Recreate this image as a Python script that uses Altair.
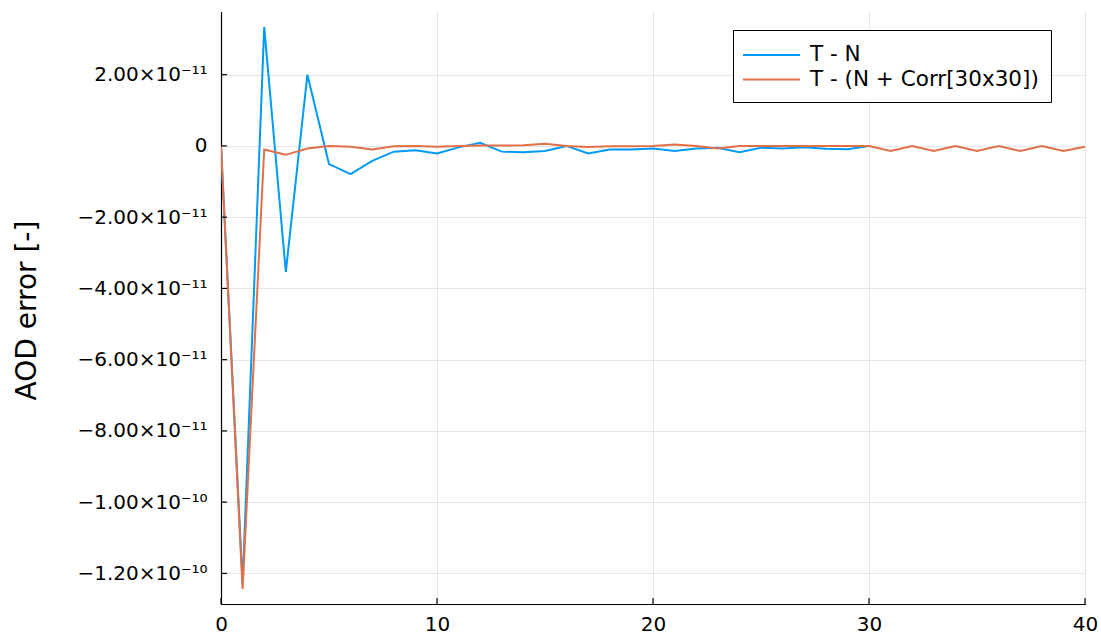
import altair as alt
import pandas as pd

# values in units of 1e-11
x_tn = list(range(0, 31))
y_tn = [0, -12.3, 3.34, -3.54, 2.0, -0.51, -0.79, -0.42, -0.16, -0.12, -0.21,
        -0.04, 0.09, -0.16, -0.18, -0.14, 0.0, -0.21, -0.10, -0.10, -0.07,
        -0.14, -0.07, -0.05, -0.18, -0.05, -0.07, -0.04, -0.08, -0.09, 0.0]
x_corr = list(range(0, 41))
y_corr = [0, -12.44, -0.10, -0.25, -0.07, 0.0, -0.02, -0.10, -0.01, 0.0, -0.02,
          0.0, 0.01, 0.01, 0.02, 0.06, 0.0, -0.03, -0.01, -0.01, 0.0,
          0.04, 0.0, -0.07, 0.0, 0.0, 0.0, 0.0, 0.0, 0.0, 0.0,
          -0.14, 0.0, -0.14, 0.0, -0.14, 0.0, -0.14, 0.0, -0.14, -0.02]
series_names = ["T - N", "T - (N + Corr[30x30])"]
series_colors = ["#009AFA", "#E36F47"]
y_ticks = [-12, -10, -8, -6, -4, -2, 0, 2]
y_tick_labels = ["\u22121.20\u00d710\u207b\u00b9\u2070", "\u22121.00\u00d710\u207b\u00b9\u2070",
                 "\u22128.00\u00d710\u207b\u00b9\u00b9", "\u22126.00\u00d710\u207b\u00b9\u00b9",
                 "\u22124.00\u00d710\u207b\u00b9\u00b9", "\u22122.00\u00d710\u207b\u00b9\u00b9",
                 "0", "2.00\u00d710\u207b\u00b9\u00b9"]
x_ticks = [0, 10, 20, 30, 40]

rows = []
for xv, yv in zip(x_tn, y_tn):
    rows.append({"x": xv, "y": yv * 1e-11, "s": series_names[0], "o": 0})
for xv, yv in zip(x_corr, y_corr):
    rows.append({"x": xv, "y": yv * 1e-11, "s": series_names[1], "o": 1})
df = pd.DataFrame(rows)

label_arr = "[" + ",".join("'" + l + "'" for l in y_tick_labels) + "]"
label_expr = label_arr + "[round(datum.value*5e10)+6]"

FONT = "DejaVu Sans"
W, H = 864, 592
YDOM = [-1.286e-10, 3.76e-11]

chart = alt.Chart(df).mark_line(strokeWidth=2, clip=True).encode(
    x=alt.X("x:Q", scale=alt.Scale(domain=[0, 40], nice=False, zero=False),
            axis=alt.Axis(values=x_ticks, title=None, grid=True, gridColor="#e5e5e5",
                          domainColor="black", domainWidth=1.2, tickSize=0, ticks=False,
                          labelPadding=10, labelFontSize=20, labelColor="black",
                          labelFont=FONT, labelFlush=False)),
    y=alt.Y("y:Q", scale=alt.Scale(domain=YDOM, nice=False, zero=False),
            axis=alt.Axis(values=[v * 1e-11 for v in y_ticks], labelExpr=label_expr,
                          title="AOD error [-]", titleFontSize=28, titleFont=FONT,
                          titleFontWeight="normal", titleColor="black",
                          titleX=-194, titleY=298, titleAlign="center", titleBaseline="middle",
                          titleAngle=270,
                          grid=True, gridColor="#e5e5e5", domainColor="black", domainWidth=1.2,
                          tickSize=0, ticks=False, labelPadding=14, labelFontSize=20,
                          labelColor="black", labelFont=FONT)),
    color=alt.Color("s:N", scale=alt.Scale(domain=series_names, range=series_colors),
                    title=None,
                    legend=alt.Legend(orient="none", legendX=512, legendY=18,
                                      strokeColor="black", fillColor="white", padding=12,
                                      cornerRadius=0, symbolType="M-1.25,0H3.5", symbolSize=576,
                                      symbolStrokeWidth=2, labelFontSize=21.5, labelFont=FONT,
                                      labelColor="black", labelOffset=39, rowPadding=0.5,
                                      labelLimit=400)),
    order=alt.Order("o:Q"),
    detail="s:N",
)

yticks_layer = alt.Chart(pd.DataFrame({"t": [v * 1e-11 for v in y_ticks]})).mark_rule(
    color="black", strokeWidth=1.2).encode(
    y=alt.Y("t:Q", scale=alt.Scale(domain=YDOM, nice=False, zero=False)),
    x=alt.value(0), x2=alt.value(6))
xticks_layer = alt.Chart(pd.DataFrame({"t": x_ticks})).mark_rule(
    color="black", strokeWidth=1.2).encode(
    x=alt.X("t:Q", scale=alt.Scale(domain=[0, 40], nice=False, zero=False)),
    y=alt.value(H), y2=alt.value(H - 6))

final = alt.layer(chart, yticks_layer, xticks_layer).properties(
    width=W, height=H,
    autosize=alt.AutoSizeParams(type="none"),
    padding={"left": 221, "top": 12, "right": 16, "bottom": 38},
    background="white",
).configure_view(stroke=None).configure_axis(domainCap="square")

final.save("out.html", embed_options={"renderer": "svg", "actions": False})
